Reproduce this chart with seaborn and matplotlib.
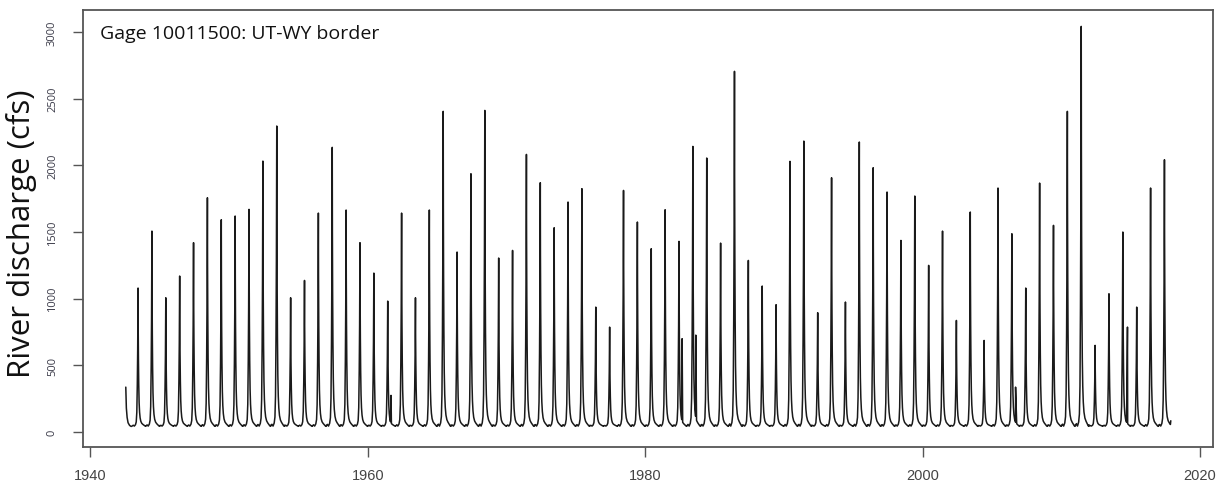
import numpy as np
import pandas as pd
import seaborn as sns
from matplotlib import pyplot as plt

# annual snowmelt peaks (cfs)
peak_years = list(range(1943, 2018))
peak_cfs = [1080, 1507, 1007, 1170, 1420, 1757, 1592, 1620, 1670, 2032,
            2295, 1007, 1137, 1642, 2135, 1665, 1420, 1192, 982, 1642,
            1007, 1665, 2405, 1350, 1937, 2412, 1305, 1362, 2082, 1870,
            1532, 1725, 1825, 937, 787, 1812, 1575, 1375, 1667, 1430,
            2142, 2055, 1417, 2705, 1287, 1095, 955, 2030, 2182, 895,
            1907, 975, 2175, 1982, 1800, 1437, 1770, 1250, 1507, 837,
            1650, 687, 1830, 1487, 1080, 1867, 1550, 2405, 3042, 650,
            1037, 1500, 937, 1830, 2042]

# smaller secondary spikes
sec_years = [1961, 1982, 1983, 2006, 2014]
sec_doy = [245, 240, 235, 255, 280]
sec_cfs = [275, 700, 727, 337, 787]

# typical yearly hydrograph shape: day of year and share of the peak above base flow
shape_doy = [1, 30, 60, 90, 110, 125, 138, 148, 155, 158, 162, 168, 176, 186, 198, 212, 230, 255, 285, 315, 345, 365]
shape_frac = [0.0, 0.006, 0.0, 0.01, 0.03, 0.1, 0.3, 0.55, 0.8, 1.0, 0.7, 0.48, 0.3, 0.17, 0.1, 0.06,
              0.035, 0.02, 0.012, 0.006, 0.0, 0.003]
base_cfs = 45

# start of record (recession of 1942) and end of record
start_doy = [200, 215, 235, 260, 300, 340]
start_cfs = [337, 180, 110, 70, 50, 42]
end_doy = 325
end_cfs = 85

rows = []
for d, q in zip(start_doy, start_cfs):
    rows.append((1942, d, q))
for yr, pk in zip(peak_years, peak_cfs):
    knots = [(d, base_cfs + f * (pk - base_cfs)) for d, f in zip(shape_doy, shape_frac)]
    for sy, sd, sq in zip(sec_years, sec_doy, sec_cfs):
        if sy == yr:
            knots.append((sd, sq))
    if yr == 2017:
        knots = [k for k in knots if k[0] < end_doy] + [(end_doy, end_cfs)]
    for d, q in sorted(knots):
        rows.append((yr, d, q))

df = pd.DataFrame(rows, columns=['ano', 'dia', 'cfs'])
df['t'] = df['ano'] + (df['dia'] - 1) / 365.25

sns.set_theme(style="white")
plt.rcParams['font.family'] = ['Open Sans', 'DejaVu Sans']

fig = plt.figure(figsize=(12.29, 4.89), dpi=100)
ax = fig.add_axes([83 / 1229, 41 / 489, 1130 / 1229, 437 / 489])

sns.lineplot(data=df, x='t', y='cfs', color='#1a1a1a', linewidth=1.1, estimator=None, ax=ax)

ax.set_xlim(1939.46, 2020.93)
ax.set_ylim(-112, 3165)

ax.set_xticks([1940, 1960, 1980, 2000, 2020])
ax.set_xticklabels(['1940', '1960', '1980', '2000', '2020'], family='Liberation Sans', fontsize=10.5, color='#444444')
ax.set_yticks([0, 500, 1000, 1500, 2000, 2500, 3000])
ax.set_yticklabels(['0', '500', '1000', '1500', '2000', '2500', '3000'], rotation=90, va='center',
                   fontsize=8, color='#3a3a48')
ax.tick_params(axis='both', direction='out', length=7, width=1, color='#555555', left=True, bottom=True)
ax.tick_params(axis='y', pad=11)
ax.tick_params(axis='x', pad=8)

for s in ax.spines.values():
    s.set_color('#555555')
    s.set_linewidth(1.3)

ax.set_xlabel('')
ax.set_ylabel('River discharge (cfs)', fontsize=22.5, color='#111111')
ax.yaxis.set_label_coords(-0.041, 0.49)

ax.text(0.015, 0.968, 'Gage 10011500: UT-WY border', transform=ax.transAxes, ha='left', va='top',
        fontsize=14, color='#111111')

fig.savefig('out.png', dpi=100)
